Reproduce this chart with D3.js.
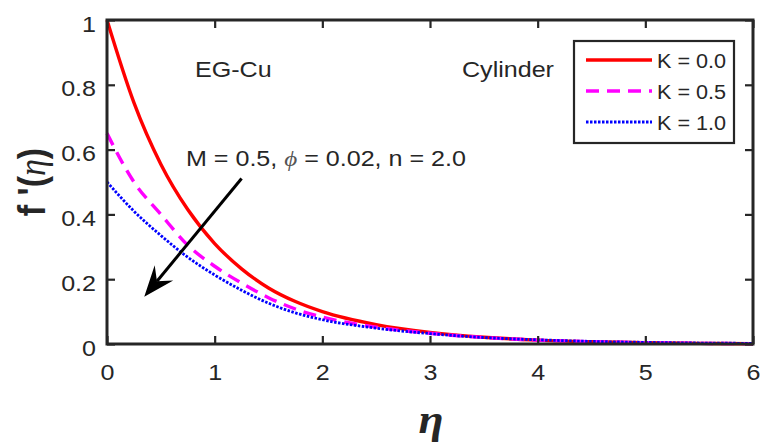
<!DOCTYPE html>
<html><head><meta charset="utf-8">
<script src="https://cdn.jsdelivr.net/npm/d3@7"></script>
<style>body{margin:0;background:#fff}svg{display:block}</style>
</head><body>
<svg id="c" width="765" height="445"></svg>
<script>
// ---- data ----
const eta  = [0, 0.25, 0.5, 0.75, 1, 1.25, 1.5, 1.75, 2, 2.5, 3, 3.5, 4, 4.5, 5, 5.5, 6];
const fK00 = [1.000, 0.745, 0.555, 0.415, 0.310, 0.232, 0.173, 0.131, 0.100, 0.060, 0.036, 0.021, 0.012, 0.007, 0.004, 0.002, 0.001];
const fK05 = [0.650, 0.500, 0.400, 0.305, 0.240, 0.188, 0.143, 0.108, 0.083, 0.052, 0.033, 0.020, 0.012, 0.007, 0.004, 0.002, 0.001];
const fK10 = [0.500, 0.410, 0.335, 0.268, 0.213, 0.166, 0.126, 0.096, 0.075, 0.049, 0.032, 0.020, 0.013, 0.008, 0.005, 0.003, 0.002];
const seriesNames = ["K = 0.0", "K = 0.5", "K = 1.0"];
const xTicks = [0, 1, 2, 3, 4, 5, 6];
const yTicks = [0, 0.2, 0.4, 0.6, 0.8, 1];
const yTickLabels = ["0", "0.2", "0.4", "0.6", "0.8", "1"];

const series = [
  {name: seriesNames[0], values: fK00, color: "#ff0000", dash: null, width: 3.4},
  {name: seriesNames[1], values: fK05, color: "#ff00ff", dash: "13,8", width: 3.4},
  {name: seriesNames[2], values: fK10, color: "#0000ff", dash: "2.5,1.5", width: 2.8}
];

const AX = "#262626";
const svg = d3.select("#c");
const L = 107, R = 753, T = 20, B = 344;
const x = d3.scaleLinear().domain([0, 6]).range([L, R]);
const y = d3.scaleLinear().domain([0, 1]).range([B, T]);
const SX = 1.14;

// lines
const line = d3.line().x((d, i) => x(eta[i])).y(d => y(d)).curve(d3.curveMonotoneX);
const gl = svg.append("g");
series.forEach(s => {
  gl.append("path").attr("d", line(s.values)).attr("fill", "none")
    .attr("stroke", s.color).attr("stroke-width", s.width)
    .attr("stroke-dasharray", s.dash);
});

// axes (MATLAB-like box with inward ticks)
function styleAxis(g) {
  g.select(".domain").remove();
  g.selectAll(".tick line").attr("stroke", AX).attr("stroke-width", 2.2);
}
const gx = svg.append("g").attr("transform", `translate(0,${B})`)
  .call(d3.axisBottom(x).tickValues(xTicks).tickSize(-8).tickFormat(d3.format("d")));
styleAxis(gx);
gx.selectAll(".tick text").attr("y", 36).attr("dy", null).attr("fill", AX)
  .attr("font-family", "Liberation Sans, Arial, sans-serif").attr("font-size", 22)
  .attr("transform", `scale(${SX},1)`);
const gxt = svg.append("g").attr("transform", `translate(0,${T})`)
  .call(d3.axisTop(x).tickValues(xTicks).tickSize(-8).tickFormat(""));
styleAxis(gxt);

const gy = svg.append("g").attr("transform", `translate(${L},0)`)
  .call(d3.axisLeft(y).tickValues(yTicks).tickSize(-8).tickFormat((d, i) => yTickLabels[i]));
styleAxis(gy);
gy.selectAll(".tick text").attr("x", -11 / SX).attr("dy", null).attr("y", 11).attr("fill", AX)
  .attr("font-family", "Liberation Sans, Arial, sans-serif").attr("font-size", 22)
  .attr("transform", `scale(${SX},1)`);
const gyr = svg.append("g").attr("transform", `translate(${R},0)`)
  .call(d3.axisRight(y).tickValues(yTicks).tickSize(-8).tickFormat(""));
styleAxis(gyr);

svg.append("rect").attr("x", L).attr("y", T).attr("width", R - L).attr("height", B - T)
  .attr("fill", "none").attr("stroke", AX).attr("stroke-width", 3);

// text helper
function txt(px, py, str, opt = {}) {
  const t = svg.append("text")
    .attr("transform", `translate(${px},${py}) scale(${opt.sx || SX},1)`)
    .attr("font-family", opt.family || "Liberation Sans, Arial, sans-serif")
    .attr("font-size", opt.size || 22)
    .attr("fill", opt.fill || AX)
    .attr("text-anchor", opt.anchor || "start");
  if (opt.weight) t.attr("font-weight", opt.weight);
  if (opt.style) t.attr("font-style", opt.style);
  if (typeof str === "string") t.text(str); else str(t);
  return t;
}

// annotations
txt(195, 77, "EG-Cu");
txt(462, 77, "Cylinder");
txt(186, 166, t => {
  t.append("tspan").text("M = 0.5, ");
  t.append("tspan").attr("font-family", "Liberation Serif, serif").attr("font-style", "italic").attr("fill", "#555").text("ϕ");
  t.append("tspan").text(" = 0.02, n = 2.0");
});

// arrow (data coordinates)
const arrowFrom = [1.25, 0.511], arrowTo = [0.346, 0.146];
{
  const x0 = x(arrowFrom[0]), y0 = y(arrowFrom[1]), x1 = x(arrowTo[0]), y1 = y(arrowTo[1]);
  const dx = x1 - x0, dy = y1 - y0, len = Math.hypot(dx, dy);
  const ux = dx / len, uy = dy / len, px = -uy, py = ux;
  const hl = 31, hw = 12, notch = 20;
  svg.append("line").attr("x1", x0).attr("y1", y0).attr("x2", x1 - ux * notch).attr("y2", y1 - uy * notch)
    .attr("stroke", "#000").attr("stroke-width", 3);
  const pts = [[x1, y1], [x1 - ux * hl + px * hw, y1 - uy * hl + py * hw],
    [x1 - ux * notch, y1 - uy * notch], [x1 - ux * hl - px * hw, y1 - uy * hl - py * hw]];
  svg.append("path").attr("d", "M" + pts.map(p => p.join(",")).join("L") + "Z").attr("fill", "#000");
}

// axis labels
txt(0, 0, t => {
  t.append("tspan").attr("font-weight", "bold").text("f '(");
  t.append("tspan").attr("font-family", "Liberation Serif, serif").attr("font-style", "italic").text("η");
  t.append("tspan").attr("font-weight", "bold").text(")");
}, {size: 34, anchor: "middle", fill: AX, sx: 1})
  .attr("transform", `translate(45,182) rotate(-90) scale(1,${SX})`);
txt(431, 433, "η", {size: 40, family: "Liberation Serif, serif", weight: "bold", style: "italic", anchor: "middle", fill: AX});

// legend
const lg = svg.append("g");
lg.append("rect").attr("x", 574).attr("y", 41).attr("width", 160).attr("height", 102)
  .attr("fill", "#fff").attr("stroke", AX).attr("stroke-width", 2.2);
series.forEach((s, i) => {
  const yy = 60 + i * 31;
  lg.append("line").attr("x1", 586).attr("x2", 652).attr("y1", yy).attr("y2", yy)
    .attr("stroke", s.color).attr("stroke-width", s.width).attr("stroke-dasharray", s.dash);
  txt(657, yy + 8, s.name, {size: 21, sx: 1.03});
});
</script>
</body></html>
